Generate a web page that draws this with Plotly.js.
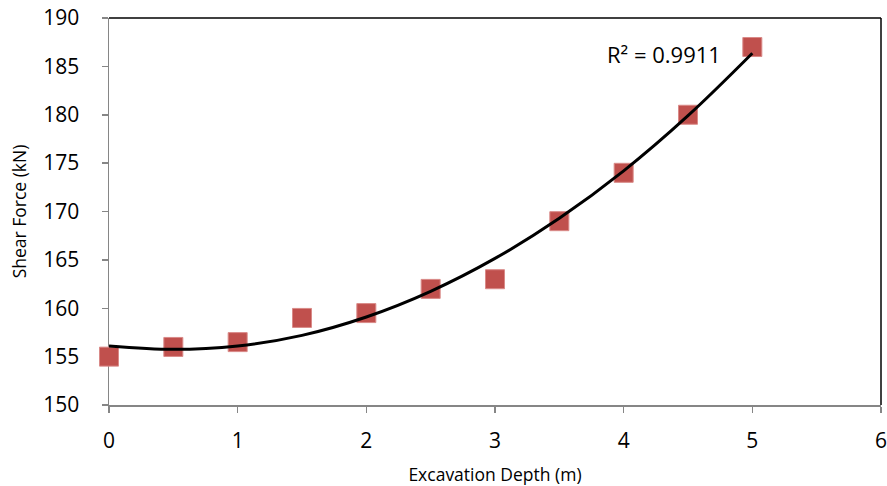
<!DOCTYPE html>
<html>
<head>
<meta charset="utf-8">
<script src="https://cdn.plot.ly/plotly-3.0.1.min.js"></script>
<style>html,body{margin:0;padding:0;background:#fff;}#chart{width:887px;height:486px;}</style>
</head>
<body>
<div id="chart"></div>
<script>
// Measured data points
const depth = [0, 0.5, 1, 1.5, 2, 2.5, 3, 3.5, 4, 4.5, 5];
const shearForce = [155, 156, 156.5, 159, 159.5, 162, 163, 169, 174, 180, 187];

// Polynomial trendline (order 2) values
const trendDepth = [0, 0.5, 1, 1.5, 2, 2.5, 3, 3.5, 4, 4.5, 5];
const trendForce = [156.1, 155.75, 156.1, 157.2, 159.1, 161.75, 165.15, 169.3, 174.2, 179.9, 186.35];

const rSquaredText = "R² = 0.9911";
const xTicks = [0, 1, 2, 3, 4, 5, 6];
const yTicks = [150, 155, 160, 165, 170, 175, 180, 185, 190];

const font = "'Open Sans', 'DejaVu Sans', sans-serif";
const grey = "#868686";

const data = [
  {
    x: depth, y: shearForce, type: "scatter", mode: "markers",
    marker: {symbol: "square", size: 19, color: "#C0504D", line: {color: "#D98A88", width: 1}},
    cliponaxis: false, showlegend: false, hoverinfo: "x+y"
  },
  {
    x: trendDepth, y: trendForce, type: "scatter", mode: "lines",
    line: {color: "#000000", width: 3, shape: "spline", smoothing: 1},
    cliponaxis: false, showlegend: false, hoverinfo: "skip"
  }
];

const layout = {
  width: 887, height: 486,
  margin: {l: 109, r: 6, t: 18, b: 81},
  paper_bgcolor: "#ffffff", plot_bgcolor: "#ffffff",
  font: {family: font, color: "#000000"},
  xaxis: {
    range: [0, 6], tickvals: xTicks, ticktext: xTicks.map(String),
    showgrid: false, zeroline: false, showline: true, linecolor: grey, linewidth: 1.5,
    ticks: "outside", ticklen: 6, tickcolor: grey, tickwidth: 1.5,
    tickfont: {size: 21, family: font}, ticklabelstandoff: 10, ticklabeloverflow: "allow",
    layer: "below traces",
    title: {text: "Excavation Depth (m)", font: {size: 17.5, family: font}, standoff: 18}
  },
  yaxis: {
    range: [150, 190], tickvals: yTicks, ticktext: yTicks.map(String),
    showgrid: false, zeroline: false, showline: true, linecolor: grey, linewidth: 1.5,
    ticks: "outside", ticklen: 6, tickcolor: grey, tickwidth: 1.5,
    tickfont: {size: 21, family: font}, ticklabelstandoff: 18,
    layer: "below traces",
    title: {text: "Shear Force (kN)", font: {size: 17.5, family: font}, standoff: 12}
  },
  shapes: [
    {type: "line", xref: "paper", yref: "paper", x0: 0, x1: 1, y0: 1, y1: 1, line: {color: "#000000", width: 1.5}, layer: "below"},
    {type: "line", xref: "paper", yref: "paper", x0: 1, x1: 1, y0: 0, y1: 1, line: {color: "#000000", width: 1.5}, layer: "below"}
  ],
  annotations: [
    {text: rSquaredText, x: 4.77, y: 186.3, xref: "x", yref: "y", xanchor: "right", yanchor: "middle",
     showarrow: false, font: {size: 22, family: font, color: "#000000"}}
  ]
};

Plotly.newPlot("chart", data, layout, {displayModeBar: false, staticPlot: true});
</script>
</body>
</html>
